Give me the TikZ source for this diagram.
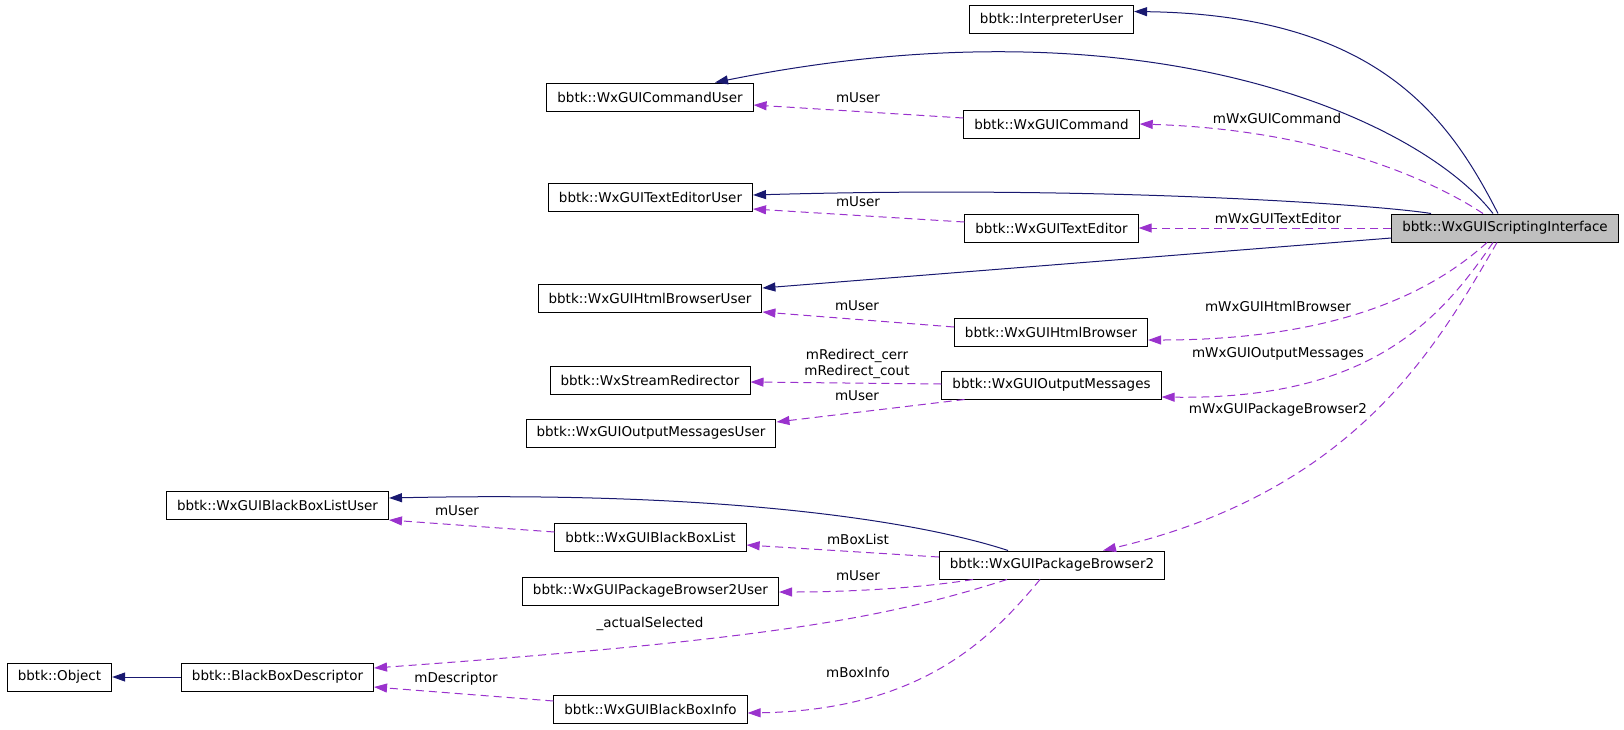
\documentclass[tikz,border=0pt]{standalone}
\usepackage{fontspec}
\setmainfont{DejaVu Sans}
\usetikzlibrary{arrows.meta}
\definecolor{inhcol}{HTML}{191970}
\definecolor{usecol}{HTML}{9A32CD}
\tikzset{
  cls/.style={draw=black, fill=white, line width=1pt, minimum height=28pt,
    inner xsep=10.5pt, inner ysep=0pt, font=\fontsize{13.5}{16}\selectfont},
  inh/.style={-{Triangle[length=13pt,width=9pt]}, draw=inhcol, line width=1pt},
  uses/.style={-{Triangle[length=13pt,width=9pt]}, draw=usecol, line width=1pt,
    dash pattern=on 8pt off 5pt},
  lbl/.style={font=\fontsize{13.5}{16}\selectfont, inner sep=0pt, align=center}
}

\begin{document}
\begin{tikzpicture}[x=1pt,y=-1pt]
    \useasboundingbox (0,0) rectangle (1624,729);
    % classes
    \node[cls] (iu) at (1051.5,19.5) {bbtk::InterpreterUser};
    \node[cls] (cu) at (650,97) {bbtk::WxGUICommandUser};
    \node[cls] (cm) at (1051.5,124) {bbtk::WxGUICommand};
    \node[cls] (tu) at (650.5,197) {bbtk::WxGUITextEditorUser};
    \node[cls] (te) at (1051.5,228) {bbtk::WxGUITextEditor};
    \node[cls, fill=gray!50] (sci) at (1505,228) {bbtk::WxGUIScriptingInterface};
    \node[cls] (hu) at (650,298) {bbtk::WxGUIHtmlBrowserUser};
    \node[cls] (hb) at (1051,332) {bbtk::WxGUIHtmlBrowser};
    \node[cls] (rd) at (650,380) {bbtk::WxStreamRedirector};
    \node[cls] (om) at (1051.5,385) {bbtk::WxGUIOutputMessages};
    \node[cls] (ou) at (651,433) {bbtk::WxGUIOutputMessagesUser};
    \node[cls] (bu) at (277.5,505) {bbtk::WxGUIBlackBoxListUser};
    \node[cls] (bl) at (650.5,537) {bbtk::WxGUIBlackBoxList};
    \node[cls] (pk) at (1052,565) {bbtk::WxGUIPackageBrowser2};
    \node[cls] (pu) at (650.5,591) {bbtk::WxGUIPackageBrowser2User};
    \node[cls] (ob) at (59.5,677) {bbtk::Object};
    \node[cls] (bd) at (277.5,677) {bbtk::BlackBoxDescriptor};
    \node[cls] (bi) at (650.5,709) {bbtk::WxGUIBlackBoxInfo};
    % inheritance
    \draw[inh] ([xshift=-7]sci.north) .. controls (1450,120) and (1380,15) .. ([yshift=8]iu.east);
    \draw[inh] ([xshift=-12]sci.north) .. controls (1420,120) and (1150,-5) .. ([xshift=65]cu.north);
    \draw[inh] ([xshift=-74]sci.north) .. controls (1380,205) and (1100,185) .. ([yshift=2]tu.east);
    \draw[inh] ([yshift=-10]sci.west) -- ([yshift=10]hu.east);
    \draw[inh] ([xshift=-44]pk.north) .. controls (940,528) and (760,490) .. ([yshift=7]bu.east);
    \draw[inh] (bd.west) -- (ob.east);
    % usage
    \draw[uses] ([xshift=-22]sci.north) .. controls (1440,185) and (1330,130) .. (cm.east);
    \draw[uses] (sci.west) -- (te.east);
    \draw[uses] ([xshift=-18]sci.south) .. controls (1440,285) and (1350,340) .. ([yshift=-8]hb.east);
    \draw[uses] ([xshift=-12]sci.south) .. controls (1440,320) and (1370,400) .. ([yshift=-12]om.east);
    \draw[uses] ([xshift=-8]sci.south) .. controls (1440,340) and (1360,490) .. ([xshift=51]pk.north);
    \draw[uses] ([yshift=6]cm.west) -- ([yshift=-8]cu.east);
    \draw[uses] ([yshift=6]te.west) -- ([yshift=-12]tu.east);
    \draw[uses] ([yshift=5]hb.west) -- ([yshift=-14]hu.east);
    \draw[uses] ([yshift=1]om.west) -- ([yshift=-2]rd.east);
    \draw[uses] ([xshift=-87]om.south) -- ([yshift=11]ou.east);
    \draw[uses] ([yshift=8]pk.west) -- ([yshift=-8]bl.east);
    \draw[uses] ([xshift=-79]pk.south) .. controls (920,588) and (850,592) .. ([yshift=-1]pu.east);
    \draw[uses] ([xshift=-45]pk.south) .. controls (880,620) and (760,640) .. ([yshift=9]bd.east);
    \draw[uses] ([xshift=-12]pk.south) .. controls (990,640) and (920,710) .. ([yshift=-4]bi.east);
    \draw[uses] ([yshift=8]bi.west) -- ([yshift=-10]bd.east);
    \draw[uses] ([yshift=5]bl.west) -- ([yshift=-15]bu.east);
    % labels
    \node[lbl] (lcm) at (1277,118) {mWxGUICommand};
    \node[lbl] (lte) at (1278,218) {mWxGUITextEditor};
    \node[lbl] (lcu) at (858,98) {mUser};
    \node[lbl] (ltu) at (858,202) {mUser};
    \node[lbl] (lhu) at (857,306) {mUser};
    \node[lbl] (lrd) at (857,364) {mRedirect\_cerr\\mRedirect\_cout};
    \node[lbl] (lou) at (857,396) {mUser};
    \node[lbl] (lhb) at (1278,306) {mWxGUIHtmlBrowser};
    \node[lbl] (lom) at (1278,354) {mWxGUIOutputMessages};
    \node[lbl] (lpk) at (1278,410) {mWxGUIPackageBrowser2};
    \node[lbl] (lbu) at (457,511) {mUser};
    \node[lbl] (lbl) at (858,539) {mBoxList};
    \node[lbl] (lpu) at (858,576) {mUser};
    \node[lbl] (lbd) at (650,624) {\_actualSelected};
    \node[lbl] (lbi) at (858,672) {mBoxInfo};
    \node[lbl] (lds) at (456,679) {mDescriptor};
\end{tikzpicture}
\end{document}
